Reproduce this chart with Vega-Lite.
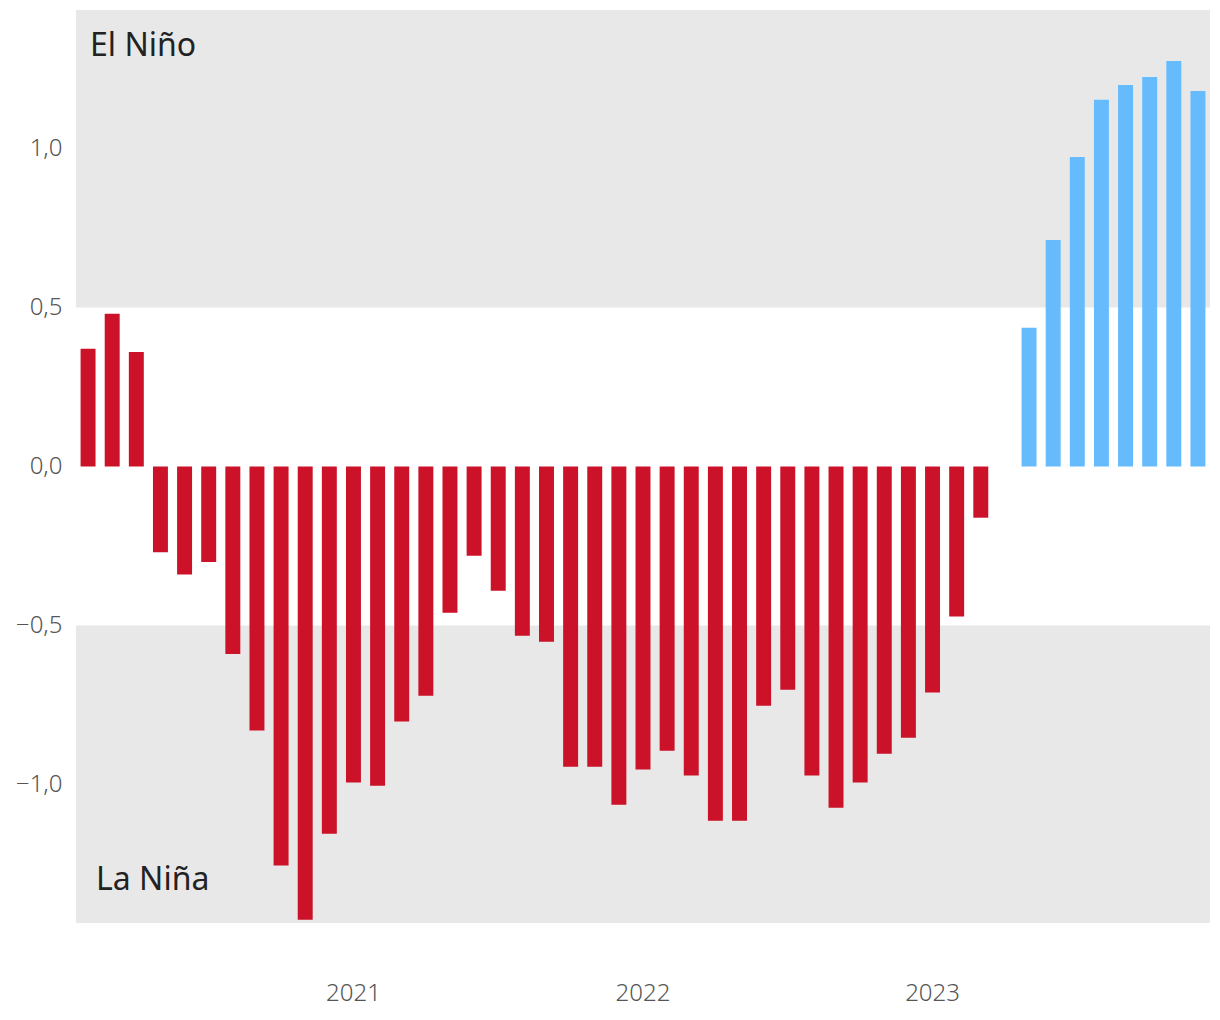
{
  "$schema": "https://vega.github.io/schema/vega-lite/v6.json",
  "width": 1134,
  "height": 913,
  "autosize": {"type": "none"},
  "padding": {"left": 76, "top": 10, "right": 10, "bottom": 97},
  "background": "white",
  "config": {
    "view": {"stroke": null},
    "font": "Noto Sans"
  },
  "datasets": {
    "oni": [
      {"month": "2020-02", "value": 0.37, "phase": "neg"},
      {"month": "2020-03", "value": 0.48, "phase": "neg"},
      {"month": "2020-04", "value": 0.36, "phase": "neg"},
      {"month": "2020-05", "value": -0.27, "phase": "neg"},
      {"month": "2020-06", "value": -0.34, "phase": "neg"},
      {"month": "2020-07", "value": -0.30, "phase": "neg"},
      {"month": "2020-08", "value": -0.59, "phase": "neg"},
      {"month": "2020-09", "value": -0.83, "phase": "neg"},
      {"month": "2020-10", "value": -1.255, "phase": "neg"},
      {"month": "2020-11", "value": -1.425, "phase": "neg"},
      {"month": "2020-12", "value": -1.155, "phase": "neg"},
      {"month": "2021-01", "value": -0.994, "phase": "neg"},
      {"month": "2021-02", "value": -1.004, "phase": "neg"},
      {"month": "2021-03", "value": -0.802, "phase": "neg"},
      {"month": "2021-04", "value": -0.721, "phase": "neg"},
      {"month": "2021-05", "value": -0.46, "phase": "neg"},
      {"month": "2021-06", "value": -0.281, "phase": "neg"},
      {"month": "2021-07", "value": -0.391, "phase": "neg"},
      {"month": "2021-08", "value": -0.532, "phase": "neg"},
      {"month": "2021-09", "value": -0.551, "phase": "neg"},
      {"month": "2021-10", "value": -0.944, "phase": "neg"},
      {"month": "2021-11", "value": -0.944, "phase": "neg"},
      {"month": "2021-12", "value": -1.064, "phase": "neg"},
      {"month": "2022-01", "value": -0.953, "phase": "neg"},
      {"month": "2022-02", "value": -0.894, "phase": "neg"},
      {"month": "2022-03", "value": -0.972, "phase": "neg"},
      {"month": "2022-04", "value": -1.114, "phase": "neg"},
      {"month": "2022-05", "value": -1.114, "phase": "neg"},
      {"month": "2022-06", "value": -0.752, "phase": "neg"},
      {"month": "2022-07", "value": -0.702, "phase": "neg"},
      {"month": "2022-08", "value": -0.972, "phase": "neg"},
      {"month": "2022-09", "value": -1.073, "phase": "neg"},
      {"month": "2022-10", "value": -0.994, "phase": "neg"},
      {"month": "2022-11", "value": -0.903, "phase": "neg"},
      {"month": "2022-12", "value": -0.853, "phase": "neg"},
      {"month": "2023-01", "value": -0.711, "phase": "neg"},
      {"month": "2023-02", "value": -0.472, "phase": "neg"},
      {"month": "2023-03", "value": -0.161, "phase": "neg"},
      {"month": "2023-04", "value": 0, "phase": "pos"},
      {"month": "2023-05", "value": 0.436, "phase": "pos"},
      {"month": "2023-06", "value": 0.712, "phase": "pos"},
      {"month": "2023-07", "value": 0.973, "phase": "pos"},
      {"month": "2023-08", "value": 1.153, "phase": "pos"},
      {"month": "2023-09", "value": 1.2, "phase": "pos"},
      {"month": "2023-10", "value": 1.225, "phase": "pos"},
      {"month": "2023-11", "value": 1.275, "phase": "pos"},
      {"month": "2023-12", "value": 1.181, "phase": "pos"}
    ],
    "bands": [
      {"lo": 0.5, "hi": 1.4355},
      {"lo": -1.4355, "hi": -0.5}
    ]
  },
  "layer": [
    {
      "data": {"name": "bands"},
      "mark": {"type": "rect", "color": "#e8e8e8"},
      "encoding": {
        "y": {"field": "lo", "type": "quantitative"},
        "y2": {"field": "hi"}
      }
    },
    {
      "data": {"name": "oni"},
      "mark": {"type": "bar"},
      "encoding": {
        "x": {
          "field": "month",
          "type": "ordinal",
          "sort": "ascending",
          "scale": {"paddingInner": 0.38, "paddingOuter": 0.19},
          "axis": {
            "title": null,
            "domain": false,
            "ticks": false,
            "labelAngle": 0,
            "labelOverlap": false,
            "labelExpr": "substring(datum.value, 5, 7) == '01' ? substring(datum.value, 0, 4) : ''",
            "labelFontSize": 24,
            "labelFontWeight": 300,
            "labelColor": "#555555",
            "labelPadding": 58
          }
        },
        "y": {
          "field": "value",
          "type": "quantitative",
          "scale": {"domain": [-1.4355, 1.4355], "nice": false, "zero": false},
          "axis": {
            "title": null,
            "domain": false,
            "ticks": false,
            "grid": false,
            "values": [-1, -0.5, 0, 0.5, 1],
            "labelExpr": "replace(format(datum.value, '.1f'), '.', ',')",
            "labelFontSize": 24,
            "labelFontWeight": 300,
            "labelColor": "#555555",
            "labelPadding": 14
          }
        },
        "color": {
          "field": "phase",
          "type": "nominal",
          "scale": {"domain": ["neg", "pos"], "range": ["#cb1228", "#66bbfd"]},
          "legend": null
        }
      }
    },
    {
      "mark": {"type": "rule", "color": "#333333", "strokeWidth": 2},
      "encoding": {"y": {"datum": 0, "type": "quantitative"}}
    },
    {
      "data": {"values": [{"label": "El Niño", "month": "2020-02", "value": 1.29}]},
      "mark": {"type": "text", "align": "left", "baseline": "alphabetic", "fontSize": 32, "color": "#222222", "dx": 2},
      "encoding": {
        "x": {"field": "month", "type": "ordinal"},
        "y": {"field": "value", "type": "quantitative"},
        "text": {"field": "label"}
      }
    },
    {
      "data": {"values": [{"label": "La Niña", "month": "2020-02", "value": -1.332}]},
      "mark": {"type": "text", "align": "left", "baseline": "alphabetic", "fontSize": 32, "color": "#222222", "dx": 8},
      "encoding": {
        "x": {"field": "month", "type": "ordinal"},
        "y": {"field": "value", "type": "quantitative"},
        "text": {"field": "label"}
      }
    }
  ]
}
